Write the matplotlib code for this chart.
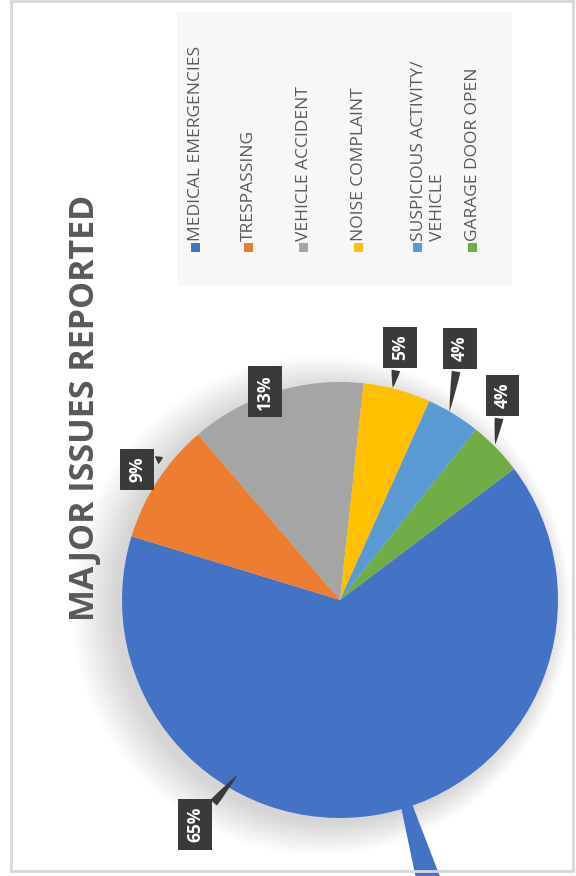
import matplotlib.pyplot as plt
from matplotlib.patches import Rectangle, Circle

categories = ["MEDICAL EMERGENCIES", "TRESPASSING", "VEHICLE ACCIDENT",
              "NOISE COMPLAINT", "SUSPICIOUS ACTIVITY/\nVEHICLE", "GARAGE DOOR OPEN"]
values = [65, 9, 13, 5, 4, 4]
colors = ["#4472C4", "#ED7D31", "#A5A5A5", "#FFC000", "#5B9BD5", "#70AD47"]

# label box positions (pie units) and where the callout points
label_pos = [(-0.665, -1.03), (-0.93, 0.60), (-0.345, 0.955), (0.275, 1.16), (0.55, 1.155), (0.745, 0.94)]
label_tip = [(-0.46, -0.79), (-0.80, 0.66), None, (0.24, 0.96), (0.50, 0.85), (0.71, 0.70)]

W, H = 576, 876
fig = plt.figure(figsize=(W / 100, H / 100), dpi=100)
fig.patch.set_facecolor("white")

def fx(x):
    return x / W

def fy(y):
    return 1 - y / H

# outer frame
fig.patches.append(Rectangle((fx(11), fy(871)), fx(562), 870 / H, transform=fig.transFigure,
                             fill=False, edgecolor="#d6d6d6", lw=2, zorder=10))

# title
fig.text(fx(85), fy(408), "MAJOR ISSUES REPORTED", rotation=90, ha="center", va="center",
         fontsize=24.5, fontweight="bold", color="#595959", family=["Open Sans", "DejaVu Sans"])

# legend (rotated, drawn by hand)
fig.patches.append(Rectangle((fx(177), fy(285)), fx(335), 273 / H, transform=fig.transFigure,
                             facecolor="#f7f7f7", edgecolor="none"))
leg_x = [195, 248, 303, 358, 417, 472]
for name, c, x in zip(categories, colors, leg_x):
    fig.patches.append(Rectangle((fx(x - 4.5), fy(252)), fx(9), 9 / H, transform=fig.transFigure,
                                 facecolor=c, edgecolor="none"))
    nlines = name.count("\n") + 1
    xc = x + (nlines - 1) * 10.5
    fig.text(fx(xc + 1), fy(241), name, rotation=90, ha="center", va="bottom", fontsize=12.5,
             color="#595959", family=["Open Sans", "DejaVu Sans"], linespacing=1.2,
             multialignment="left")

# pie
cx, cy, r = 340, 600, 218
ax = fig.add_axes([fx(cx - r), fy(cy + r), 2 * r / W, 2 * r / H])

# soft shadow
for i in range(14):
    ax.add_patch(Circle((-0.035 - i * 0.004, -0.025), 1.0 + i * 0.011, color="black",
                        alpha=0.011, lw=0, zorder=0, clip_on=False))

wedges, _ = ax.pie(values, colors=colors, startangle=37, counterclock=False, radius=1,
                   wedgeprops=dict(linewidth=0))
for w in wedges:
    w.set_zorder(2)
ax.set_xlim(-1, 1)
ax.set_ylim(-1, 1)
ax.set_aspect("equal")
ax.axis("off")

# stray blue pointer at the bottom
ax.annotate("", xy=(0.21, -0.62), xytext=(0.44, -1.40),
            arrowprops=dict(arrowstyle="wedge,tail_width=2.0,shrink_factor=0.5",
                            color=colors[0], lw=0, clip_on=False),
            annotation_clip=False, zorder=3)

for v, pos, tip in zip(values, label_pos, label_tip):
    props = None
    if tip is not None:
        props = dict(arrowstyle="wedge,tail_width=0.5,shrink_factor=0.6", color="#3a3a3a", lw=0)
    ax.annotate(f"{v}%", xy=tip if tip else pos, xytext=pos, rotation=90, ha="center",
                va="center", fontsize=12.5, fontweight="bold", color="white",
                family=["Open Sans", "DejaVu Sans"], annotation_clip=False, zorder=5,
                bbox=dict(boxstyle="square,pad=0.45", facecolor="#3a3a3a", edgecolor="none"),
                arrowprops=props)

fig.savefig("out.png", dpi=100)
